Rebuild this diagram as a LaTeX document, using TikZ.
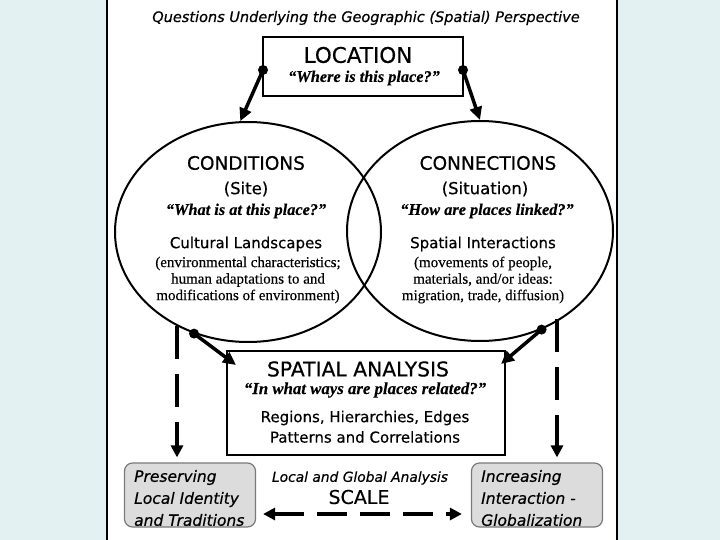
\documentclass[tikz,border=0pt]{standalone}
\usepackage{fontspec}
\setmainfont{Liberation Serif}[FakeBold=0.3]
\setsansfont{DejaVu Sans}[FakeBold=0.5]
\usetikzlibrary{shapes.geometric,arrows.meta,calc}
\definecolor{bgc}{HTML}{E4F1F2}
\definecolor{boxgray}{HTML}{DCDCDC}
\definecolor{boxedge}{HTML}{7A7A7A}
\begin{document}
\begin{tikzpicture}[x=1pt,y=-1pt,
  ttl/.style={font=\sffamily\itshape\fontsize{14.5}{16}\selectfont, inner sep=0},
  big/.style={font=\sffamily\fontsize{21.5}{24}\selectfont, inner sep=0},
  hd/.style={font=\sffamily\fontsize{18.5}{20}\selectfont, inner sep=0},
  sub/.style={font=\sffamily\fontsize{16.5}{20}\selectfont, inner sep=0},
  qt/.style={font=\rmfamily\bfseries\itshape\fontsize{16.3}{18}\selectfont, inner sep=0},
  lbl/.style={font=\sffamily\fontsize{15}{17}\selectfont, inner sep=0},
  sm/.style={font=\rmfamily\fontsize{15}{16.5}\selectfont, align=center, inner sep=0},
  bt/.style={font=\sffamily\itshape\fontsize{15.5}{22}\selectfont, align=left, inner sep=0, anchor=west},
  frame/.style={draw, line width=2pt, inner sep=0},
  oval/.style={draw, ellipse, line width=2pt, inner sep=0, minimum width=266, minimum height=220},
  graybox/.style={draw=boxedge, fill=boxgray, line width=1.2pt, rounded corners=8pt, inner sep=0, minimum width=131, minimum height=64},
  thickarrow/.style={line width=3.5pt, -{Triangle[length=13pt,width=12pt]}},
  dasharrow/.style={line width=4pt, dash pattern=on 33pt off 15pt, -{Triangle[length=12pt,width=12pt]}},
  scalearrow/.style={line width=4pt, dash pattern=on 30pt off 13pt, {Triangle[length=12pt,width=12pt]}-{Triangle[length=12pt,width=12pt]}},
  dot/.style={circle, fill, inner sep=0, minimum size=10pt}
]
\useasboundingbox (0,0) rectangle (720,540);
\fill[bgc] (0,0) rectangle (720,540);
\fill[white] (107,0) rectangle (617,540);
\draw[line width=2pt] (107,0) -- (107,540) (617,0) -- (617,540);

\node[ttl] (title) at (366,18) {Questions Underlying the Geographic (Spatial) Perspective};

% LOCATION
\node[frame, minimum width=200, minimum height=59] (loc) at (363,66.5) {};
\node[big] (loctxt) at (358,55) {LOCATION};
\node[qt] (locq) at (364,78) {“Where is this place?”};

% ellipses
\node[oval] (cond) at (248,232) {};
\node[oval] (conn) at (480,231) {};

\node[hd] (condh) at (246,163) {CONDITIONS};
\node[sub] (condsub) at (246,189) {(Site)};
\node[qt] (condq) at (246,211) {“What is at this place?”};
\node[lbl] (condl) at (246,244) {Cultural Landscapes};
\node[sm] (condsm) at (248,280) {(environmental characteristics;\\human adaptations to and\\modifications of environment)};

\node[hd] (connh) at (488,163) {CONNECTIONS};
\node[sub] (connsub) at (485,189) {(Situation)};
\node[qt] (connq) at (487,211) {“How are places linked?”};
\node[lbl] (connl) at (483,244) {Spatial Interactions};
\node[sm] (connsm) at (483,280) {(movements of people,\\materials, and/or ideas:\\migration, trade, diffusion)};

% SPATIAL ANALYSIS
\node[frame, minimum width=278, minimum height=104] (sa) at (366,403) {};
\node[big, font=\sffamily\fontsize{20.3}{22}\selectfont] (sah) at (358,369) {SPATIAL ANALYSIS};
\node[qt, font=\rmfamily\bfseries\itshape\fontsize{16.8}{18}\selectfont] (saq) at (365,390) {“In what ways are places related?”};
\node[lbl] (sal1) at (365,418) {Regions, Hierarchies, Edges};
\node[lbl] (sal2) at (365,437) {Patterns and Correlations};

% bottom boxes
\node[graybox] (pres) at (190,495) {};
\node[bt] (prestxt) at (134,498) {Preserving\\Local Identity\\and Traditions};
\node[graybox] (inc) at (537,495) {};
\node[bt] (inctxt) at (481,498) {Increasing\\Interaction -\\Globalization};

\node[font=\sffamily\itshape\fontsize{13.8}{15}\selectfont, inner sep=0] (lga) at (360,478) {Local and Global Analysis};
\node[font=\sffamily\fontsize{19}{20}\selectfont, inner sep=0] (scale) at (359,497) {SCALE};

% connectors from LOCATION
\coordinate (d1) at ($(loc.west)+(1,3.5)$);
\coordinate (d2) at ($(loc.east)+(-1,3.5)$);
\draw[thickarrow] (d1) -- (cond.94);
\draw[thickarrow] (d2) -- (conn.north);
\node[dot] at (d1) {};
\node[dot] at (d2) {};

% connectors to SPATIAL ANALYSIS
\coordinate (d3) at (cond.242);
\coordinate (d4) at (conn.302);
\draw[thickarrow] (d3) -- ($(sa.north west)+(10,15)$);
\draw[thickarrow] (d4) -- ($(sa.north east)+(-5,14)$);
\node[dot] at (d3) {};
\node[dot] at (d4) {};

% dashed verticals
\coordinate (v1) at (177,326);
\coordinate (v2) at (557,319);
\draw[dasharrow] (v1) -- ($(v1 |- pres.north)+(0,-5)$);
\draw[dasharrow] (v2) -- ($(v2 |- inc.north)+(0,-5)$);

% scale arrow
\draw[scalearrow] ($(pres.east)+(7,19)$) -- ($(inc.west)+(-9,19)$);
\end{tikzpicture}
\end{document}
